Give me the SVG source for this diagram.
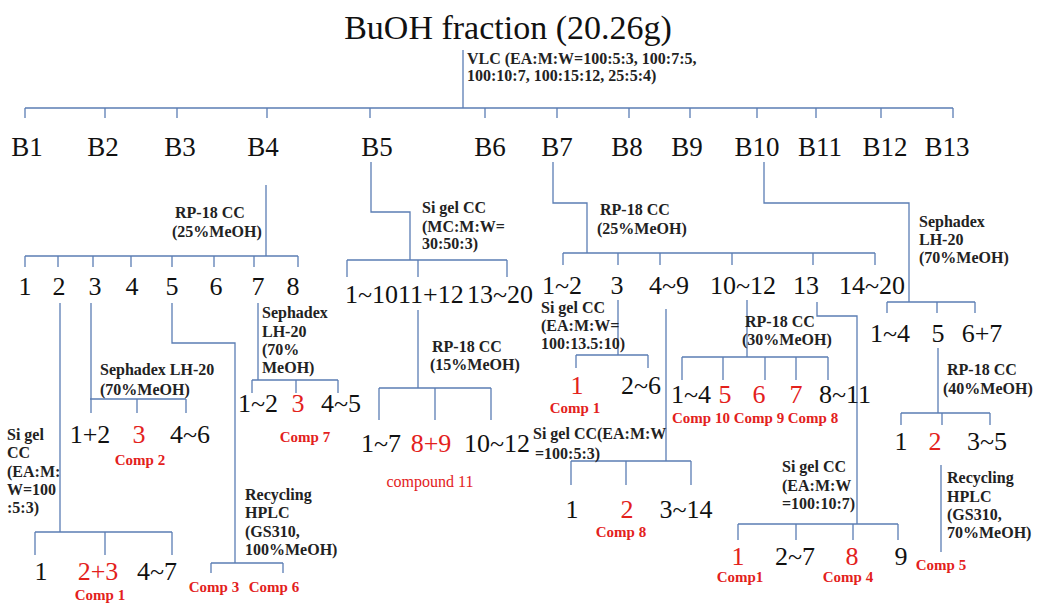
<svg xmlns="http://www.w3.org/2000/svg" width="1041" height="608" viewBox="0 0 1041 608">
<style>
.ln{stroke:#5b7db4;stroke-width:1.3;fill:none}
.lb{font-family:"Liberation Serif","Times New Roman",serif;font-size:26px;fill:#111;text-anchor:middle}
.bb{font-family:"Liberation Serif","Times New Roman",serif;font-size:27px;fill:#111;text-anchor:middle}
.st{text-anchor:start}
.en{text-anchor:end}
.r{fill:#e3211c}
.an{font-family:"Liberation Serif","Times New Roman",serif;font-weight:bold;font-size:16px;fill:#222}
.cp{font-family:"Liberation Serif","Times New Roman",serif;font-weight:bold;font-size:15px;fill:#e3211c;text-anchor:middle}
.cn{font-family:"Liberation Serif","Times New Roman",serif;font-size:16px;fill:#e3211c;text-anchor:middle}
</style>
<rect width="1041" height="608" fill="#fff"/>
<g id="connectors" class="ln">
<path d="M463 50V108M25 108H953M25 108V118M105 108V118M177 108V118M267 108V118M370 108V118M485 108V118M557 108V118M629 108V118M690 108V118M757 108V118M816 108V118M881 108V118M953 108V118"/>
<path d="M266 185V256M25 256H298M25 256V267M58 256V267M93 256V267M131 256V267M172 256V267M214 256V267M254 256V267M298 256V267"/>
<path d="M60 303V532M35 532H172M35 532V555M105 532V555M172 532V555"/>
<path d="M91 303V413M90 399H186M137 399V413M186 399V413"/>
<path d="M172 303V343H235V563M211 563H283M211 563V573M283 563V573"/>
<path d="M258 303V380M252 380H338M252 380V393M296 380V393M338 380V393"/>
<path d="M371 162V212H410V260M347 260H507M347 260V277M418 260V277M507 260V277"/>
<path d="M418 310V388M379 388H491M379 388V420M435 388V420M491 388V420"/>
<path d="M553 162V203H587V253M563 253H875M563 253V265M618 253V265M660 253V265M732 253V265M813 253V265M875 253V265"/>
<path d="M618 300V355M576 355H648M576 355V368M648 355V368"/>
<path d="M666 309V461M571 461H691M571 461V485M626 461V485M691 461V485"/>
<path d="M747 300V357M682 357H828M682 357V380M723 357V380M765 357V380M796 357V380M828 357V380"/>
<path d="M817 302V316H857V524M738 524H898M738 524V540M796 524V540M853 524V540M898 524V540"/>
<path d="M764 162V203H909V302M887 302H975M887 302V313M937 302V313M975 302V313"/>
<path d="M938 348V413M901 413H990M901 413V425M942 413V425M990 413V425"/>
<path d="M941 465V552"/>
</g>
<g id="root">
<text x="508" y="39" font-family="Liberation Serif, Times New Roman, serif" font-size="34" fill="#111" text-anchor="middle">BuOH fraction (20.26g)</text>
<text class="an"><tspan x="467" y="64">VLC (EA:M:W=100:5:3, 100:7:5,</tspan><tspan x="467" y="81">100:10:7, 100:15:12, 25:5:4)</tspan></text>
</g>
<g id="B-fractions">
<text class="bb" x="27" y="156">B1</text>
<text class="bb" x="103" y="156">B2</text>
<text class="bb" x="180" y="156">B3</text>
<text class="bb" x="263" y="156">B4</text>
<text class="bb" x="377" y="156">B5</text>
<text class="bb" x="490" y="156">B6</text>
<text class="bb" x="557" y="156">B7</text>
<text class="bb" x="627" y="156">B8</text>
<text class="bb" x="687" y="156">B9</text>
<text class="bb" x="757" y="156">B10</text>
<text class="bb" x="820" y="156">B11</text>
<text class="bb" x="885" y="156">B12</text>
<text class="bb" x="947" y="156">B13</text>
</g>
<g id="B4-branch">
<text class="an"><tspan x="175" y="218">RP-18 CC</tspan><tspan x="172" y="237">(25%MeOH)</tspan></text>
<text class="lb" x="25" y="295">1</text>
<text class="lb" x="59" y="295">2</text>
<text class="lb" x="95" y="295">3</text>
<text class="lb" x="132" y="295">4</text>
<text class="lb" x="172" y="295">5</text>
<text class="lb" x="216" y="295">6</text>
<text class="lb" x="258" y="295">7</text>
<text class="lb" x="293" y="295">8</text>
</g>
<g id="B4-2">
<text class="an"><tspan x="7" y="440">Si gel</tspan><tspan x="7" y="458">CC</tspan><tspan x="7" y="477">(EA:M:</tspan><tspan x="7" y="495">W=100</tspan><tspan x="7" y="513">:5:3)</tspan></text>
<text class="lb" x="41" y="580">1</text>
<text class="lb r" x="98" y="580">2+3</text>
<text class="lb" x="157" y="580">4~7</text>
<text class="cp" x="100" y="600">Comp 1</text>
</g>
<g id="B4-3">
<text class="an"><tspan x="100" y="375">Sephadex LH-20</tspan><tspan x="100" y="395">(70%MeOH)</tspan></text>
<text class="lb" x="90" y="443">1+2</text>
<text class="lb r" x="139" y="443">3</text>
<text class="lb" x="190" y="443">4~6</text>
<text class="cp" x="140" y="465">Comp 2</text>
</g>
<g id="B4-5">
<text class="an"><tspan x="245" y="500">Recycling</tspan><tspan x="245" y="518">HPLC</tspan><tspan x="245" y="537">(GS310,</tspan><tspan x="245" y="555">100%MeOH)</tspan></text>
<text class="cp" x="214" y="592">Comp 3</text>
<text class="cp" x="274" y="592">Comp 6</text>
</g>
<g id="B4-7">
<text class="an"><tspan x="262" y="318">Sephadex</tspan><tspan x="262" y="337">LH-20</tspan><tspan x="262" y="355">(70%</tspan><tspan x="262" y="373">MeOH)</tspan></text>
<text class="lb" x="258" y="412">1~2</text>
<text class="lb r" x="298" y="412">3</text>
<text class="lb" x="341" y="412">4~5</text>
<text class="cp" x="305" y="442">Comp 7</text>
</g>
<g id="B5-branch">
<text class="an"><tspan x="422" y="213">Si gel CC</tspan><tspan x="422" y="232">(MC:M:W=</tspan><tspan x="422" y="249">30:50:3)</tspan></text>
<text class="lb st" x="345" y="303">1~10</text>
<text class="lb st" x="398" y="303">11+12</text>
<text class="lb en" x="533" y="303">13~20</text>
</g>
<g id="B5-11">
<text class="an"><tspan x="432" y="352">RP-18 CC</tspan><tspan x="430" y="370">(15%MeOH)</tspan></text>
<text class="lb" x="381" y="452">1~7</text>
<text class="lb r" x="431" y="452">8+9</text>
<text class="lb" x="497" y="452">10~12</text>
<text class="cn" x="430" y="487">compound 11</text>
</g>
<g id="B7-branch">
<text class="an"><tspan x="600" y="215">RP-18 CC</tspan><tspan x="597" y="234">(25%MeOH)</tspan></text>
<text class="lb" x="562" y="294">1~2</text>
<text class="lb" x="617" y="294">3</text>
<text class="lb" x="669" y="294">4~9</text>
<text class="lb" x="743" y="294">10~12</text>
<text class="lb" x="806" y="294">13</text>
<text class="lb" x="872" y="294">14~20</text>
</g>
<g id="B7-3">
<text class="an"><tspan x="541" y="313">Si gel CC</tspan><tspan x="541" y="331">(EA:M:W=</tspan><tspan x="541" y="349">100:13.5:10)</tspan></text>
<text class="lb r" x="577" y="394">1</text>
<text class="lb" x="641" y="394">2~6</text>
<text class="cp" x="575" y="413">Comp 1</text>
</g>
<g id="B7-4-9">
<text class="an"><tspan x="533" y="439">Si gel CC(EA:M:W</tspan><tspan x="535" y="459">=100:5:3)</tspan></text>
<text class="lb" x="572" y="518">1</text>
<text class="lb r" x="627" y="518">2</text>
<text class="lb" x="686" y="518">3~14</text>
<text class="cp" x="621" y="537">Comp 8</text>
</g>
<g id="B7-10-12">
<text class="an"><tspan x="745" y="327">RP-18 CC</tspan><tspan x="742" y="345">(30%MeOH)</tspan></text>
<text class="lb" x="691" y="403">1~4</text>
<text class="lb r" x="725" y="403">5</text>
<text class="lb r" x="759" y="403">6</text>
<text class="lb r" x="796" y="403">7</text>
<text class="lb" x="845" y="403">8~11</text>
<text class="cp" x="701" y="423">Comp 10</text>
<text class="cp" x="759" y="423">Comp 9</text>
<text class="cp" x="813" y="423">Comp 8</text>
</g>
<g id="B7-13">
<text class="an"><tspan x="782" y="472">Si gel CC</tspan><tspan x="782" y="491">(EA:M:W</tspan><tspan x="782" y="509">=100:10:7)</tspan></text>
<text class="lb r" x="738" y="565">1</text>
<text class="lb" x="795" y="565">2~7</text>
<text class="lb r" x="852" y="565">8</text>
<text class="lb" x="901" y="565">9</text>
<text class="cp" x="740" y="582">Comp1</text>
<text class="cp" x="848" y="582">Comp 4</text>
</g>
<g id="B10-branch">
<text class="an"><tspan x="919" y="227">Sephadex</tspan><tspan x="919" y="245">LH-20</tspan><tspan x="919" y="263">(70%MeOH)</tspan></text>
<text class="lb" x="890" y="342">1~4</text>
<text class="lb" x="938" y="342">5</text>
<text class="lb" x="982" y="342">6+7</text>
</g>
<g id="B10-5">
<text class="an"><tspan x="947" y="375">RP-18 CC</tspan><tspan x="943" y="394">(40%MeOH)</tspan></text>
<text class="lb" x="901" y="450">1</text>
<text class="lb r" x="935" y="450">2</text>
<text class="lb" x="987" y="450">3~5</text>
</g>
<g id="B10-5-2">
<text class="an"><tspan x="947" y="483">Recycling</tspan><tspan x="947" y="502">HPLC</tspan><tspan x="947" y="520">(GS310,</tspan><tspan x="947" y="538">70%MeOH)</tspan></text>
<text class="cp" x="941" y="570">Comp 5</text>
</g>
</svg>
